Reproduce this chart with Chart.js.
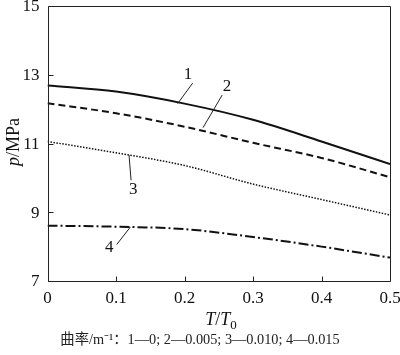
<!DOCTYPE html>
<html><head><meta charset="utf-8">
<script src="https://cdn.jsdelivr.net/npm/chart.js@4"></script>
<style>html,body{margin:0;padding:0;background:#fff}#wrap{width:400px;height:355px}</style>
</head><body><div id="wrap"><canvas id="c" width="400" height="355"></canvas></div>
<script>
const tValues = [0, 0.1, 0.2, 0.3, 0.4, 0.5];
const series1 = [12.69, 12.51, 12.16, 11.69, 11.06, 10.40];
const series2 = [12.17, 11.88, 11.49, 11.02, 10.58, 10.02];
const series3 = [11.06, 10.73, 10.36, 9.82, 9.37, 8.92];
const series4 = [8.61, 8.58, 8.51, 8.28, 8.00, 7.68];
const seriesNames = ['1', '2', '3', '4'];
const yTicks = [7, 9, 11, 13, 15];
const xTicks = [0, 0.1, 0.2, 0.3, 0.4, 0.5];
const caption = '曲率/m⁻¹：1—0; 2—0.005; 3—0.010; 4—0.015';

const pts = arr => arr.map((v, i) => ({x: tValues[i], y: v}));
const serif = '"Liberation Serif", "Times New Roman", serif';

const decor = {
  id: 'decor',
  afterDraw(chart) {
    const ctx = chart.ctx, a = chart.chartArea;
    const xs = chart.scales.x, ys = chart.scales.y;
    ctx.save();
    ctx.strokeStyle = '#222'; ctx.lineWidth = 1; ctx.setLineDash([]);
    const L = Math.round(a.left) + 0.5, R = Math.round(a.right) + 0.5, T = Math.round(a.top) + 0.5, B = Math.round(a.bottom) + 0.5;
    ctx.beginPath();
    ctx.moveTo(L, T); ctx.lineTo(R, T); ctx.lineTo(R, B); ctx.lineTo(L, B); ctx.closePath();
    // inward ticks
    yTicks.forEach(v => { const y = Math.round(ys.getPixelForValue(v)) + 0.5; ctx.moveTo(L, y); ctx.lineTo(L + 5, y); });
    xTicks.forEach(v => { const x = Math.round(xs.getPixelForValue(v)) + 0.5; ctx.moveTo(x, B); ctx.lineTo(x, B - 5); });
    ctx.stroke();
    // y tick labels (positions from the y scale)
    ctx.fillStyle = '#111';
    ctx.font = '17px ' + serif;
    ctx.textAlign = 'right'; ctx.textBaseline = 'middle';
    yTicks.forEach(v => ctx.fillText(String(v), a.left - 8, ys.getPixelForValue(v) + 1));
    // curve labels with leaders
    const d = 0.19;
    const lab = [
      {s: 0, tx: 0.205, ty: 13.2 - d, lx1: 0.212, ly1: 12.95 - d, lx2: 0.19, ly2: 12.35 - d},
      {s: 1, tx: 0.262, ty: 12.85 - d, lx1: 0.255, ly1: 12.6 - d, lx2: 0.227, ly2: 11.65 - d},
      {s: 2, tx: 0.125, ty: 9.85 - d, lx1: 0.122, ly1: 10.12 - d, lx2: 0.119, ly2: 10.67},
      {s: 3, tx: 0.09, ty: 8.15 - d, lx1: 0.101, ly1: 8.25 - d, lx2: 0.121, ly2: 8.57}
    ];
    ctx.textAlign = 'center';
    lab.forEach(l => {
      ctx.beginPath();
      ctx.moveTo(xs.getPixelForValue(l.lx1), ys.getPixelForValue(l.ly1));
      ctx.lineTo(xs.getPixelForValue(l.lx2), ys.getPixelForValue(l.ly2));
      ctx.stroke();
      ctx.fillText(seriesNames[l.s], xs.getPixelForValue(l.tx), ys.getPixelForValue(l.ty));
    });
    // y title
    ctx.save();
    ctx.translate(14, 142);
    ctx.rotate(-Math.PI / 2);
    ctx.textAlign = 'left'; ctx.textBaseline = 'middle';
    ctx.font = 'italic 18px ' + serif;
    const pW = ctx.measureText('p').width;
    ctx.font = '18px ' + serif;
    const rW = ctx.measureText('/MPa').width;
    let x0 = -(pW + rW) / 2;
    ctx.font = 'italic 18px ' + serif; ctx.fillText('p', x0, 0);
    ctx.font = '18px ' + serif; ctx.fillText('/MPa', x0 + pW, 0);
    ctx.restore();
    // x title T/T0
    ctx.textAlign = 'left'; ctx.textBaseline = 'alphabetic';
    ctx.font = 'italic 18px ' + serif;
    const w1 = ctx.measureText('T').width;
    ctx.font = '18px ' + serif;
    const w2 = ctx.measureText('/').width;
    ctx.font = 'italic 18px ' + serif;
    const w3 = ctx.measureText('T').width;
    ctx.font = '13px ' + serif;
    const w4 = ctx.measureText('0').width;
    let xx = 221 - (w1 + w2 + w3 + w4) / 2;
    const by = 325;
    ctx.font = 'italic 18px ' + serif; ctx.fillText('T', xx, by); xx += w1;
    ctx.font = '18px ' + serif; ctx.fillText('/', xx, by); xx += w2;
    ctx.font = 'italic 18px ' + serif; ctx.fillText('T', xx, by); xx += w3;
    ctx.font = '13px ' + serif; ctx.fillText('0', xx, by + 4);
    // caption
    ctx.font = '14.3px ' + serif + ', "Noto Sans CJK SC"';
    ctx.textAlign = 'center'; ctx.textBaseline = 'middle';
    ctx.fillStyle = '#222';
    ctx.fillText(caption, 200, 340);
    ctx.restore();
  }
};

const common = {fill: false, pointRadius: 0, borderColor: '#111', cubicInterpolationMode: 'monotone'};
new Chart(document.getElementById('c'), {
  type: 'line',
  data: {
    datasets: [
      Object.assign({label: seriesNames[0], data: pts(series1), borderWidth: 2}, common),
      Object.assign({label: seriesNames[1], data: pts(series2), borderWidth: 2, borderDash: [7, 4]}, common),
      Object.assign({label: seriesNames[2], data: pts(series3), borderWidth: 1.5, borderDash: [1.5, 1.5]}, common),
      Object.assign({label: seriesNames[3], data: pts(series4), borderWidth: 2, borderDash: [10, 3, 2, 3]}, common)
    ]
  },
  options: {
    responsive: false,
    animation: false,
    layout: {padding: {top: 6, right: 10, left: 0, bottom: 0}},
    plugins: {legend: {display: false}, tooltip: {enabled: false}},
    scales: {
      x: {
        type: 'linear', min: 0, max: 0.5,
        afterBuildTicks: s => { s.ticks = xTicks.map(v => ({value: v})); },
        afterFit: s => { s.height = 74; s.paddingLeft = 0; s.paddingRight = 0; },
        grid: {display: false, drawOnChartArea: false, drawTicks: false, tickLength: 0},
        border: {display: false},
        ticks: {color: '#111', font: {family: serif, size: 17}, padding: 7, maxRotation: 0,
                callback: v => String(v)}
      },
      y: {
        min: 7, max: 15,
        afterBuildTicks: s => { s.ticks = yTicks.map(v => ({value: v})); },
        afterFit: s => { s.width = 47.5; s.paddingTop = 0; s.paddingBottom = 0; },
        grid: {display: false, drawOnChartArea: false, drawTicks: false, tickLength: 0},
        border: {display: false},
        ticks: {display: false}
      }
    }
  },
  plugins: [decor]
});
</script></body></html>
